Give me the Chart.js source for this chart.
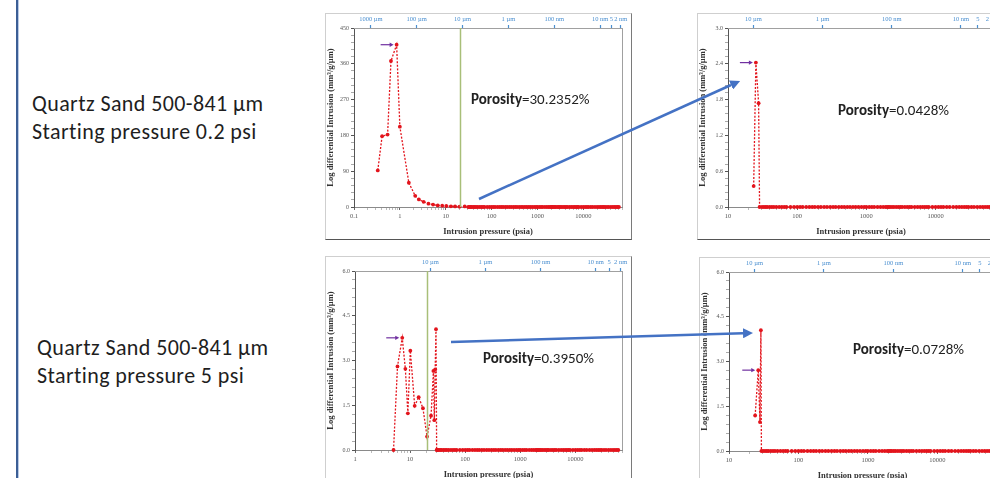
<!DOCTYPE html>
<html>
<head>
<meta charset="utf-8">
<script src="https://cdn.jsdelivr.net/npm/chart.js@4.4.1/dist/chart.umd.min.js"></script>
<style>
  body { margin: 0; width: 990px; height: 478px; overflow: hidden; background: #fff; position: relative;
         font-family: Carlito, Calibri, Lato, sans-serif; }
  .rule { position: absolute; left: 16px; top: 0; width: 2px; height: 478px; background: #3b5e95; border-right: 1px solid #b8cae6; }
  .box { position: absolute; width: 307px; height: 227px; box-sizing: border-box; background: #fff;
         border: 1px solid #cfcfcf; border-right-color: #7a7a7a; border-bottom-color: #555; }
  .box canvas { display: block; }
  .label { position: absolute; font-size: 22px; letter-spacing: 0.4px; line-height: 28px; color: #1e1e1e; white-space: nowrap; }
  .poro { position: absolute; font-size: 15px; line-height: 16px; color: #222; white-space: nowrap; }
  svg { position: absolute; left: 0; top: 0; }
</style>
</head>
<body>
<div class="rule"></div>

<div class="label" style="left:32px; top:90px">Quartz Sand 500-841 µm<br>Starting pressure 0.2 psi</div>
<div class="label" style="left:37px; top:334px">Quartz Sand 500-841 µm<br>Starting pressure 5 psi</div>

<div class="box" style="left:325px; top:13px"><canvas id="c1" width="305" height="225"></canvas></div>
<div class="box" style="left:697px; top:13px"><canvas id="c2" width="305" height="225"></canvas></div>
<div class="box" style="left:325px; top:256px"><canvas id="c3" width="305" height="225"></canvas></div>
<div class="box" style="left:699px; top:257px"><canvas id="c4" width="305" height="225"></canvas></div>

<div class="poro" style="left:471px; top:91px"><b>Porosity</b>=30.2352%</div>
<div class="poro" style="left:838px; top:102px"><b>Porosity</b>=0.0428%</div>
<div class="poro" style="left:483px; top:350px"><b>Porosity</b>=0.3950%</div>
<div class="poro" style="left:853px; top:341px"><b>Porosity</b>=0.0728%</div>

<svg width="990" height="478">
  <defs>
    <marker id="ah" markerWidth="4" markerHeight="4" refX="0" refY="2" orient="auto">
      <path d="M0,0 L4,2 L0,4 z" fill="#4472c4"></path>
    </marker>
  </defs>
  <line x1="479" y1="199" x2="731" y2="85" stroke="#4472c4" stroke-width="2.5" marker-end="url(#ah)"></line>
  <line x1="451" y1="342" x2="743" y2="333.3" stroke="#4472c4" stroke-width="2.5" marker-end="url(#ah)"></line>
</svg>

<script>
// pressure steps of the high-pressure run (psia), all read as zero intrusion
const highPressureSteps = [31, 33, 35, 37, 40, 43, 46, 50, 55, 60, 65, 70, 80, 90, 100, 110, 120, 135, 150, 165,
  180, 200, 220, 245, 270, 300, 330, 360, 400, 440, 480, 530, 580, 640, 700, 770, 850, 930, 1000, 1100,
  1200, 1300, 1450, 1600, 1750, 1900, 2000, 2100, 2200, 2350, 2500, 2700, 2900, 3100, 3300, 3600, 3900,
  4200, 4500, 5000, 5500, 6000, 6500, 7000, 7500, 8000, 9000, 10000, 11000, 12000, 13000, 14500, 16000,
  18000, 20000, 22000, 24000, 26000, 28000, 30000, 33000, 36000, 40000, 44000, 48000, 52000, 56000, 60000];

// sample 1: start 0.2 psi, raw sand
const s1Pressure = [0.33, 0.41, 0.54, 0.64, 0.85, 1.0, 1.57, 2.16, 2.6, 3.3, 4.2, 5.3, 6.7, 8.4, 10.3, 13, 16, 20, 26];
const s1Value    = [92, 178, 182, 367, 408, 202, 61, 28, 19, 13, 8.4, 6, 4, 3.4, 2.5, 1.7, 1.5, 0.8, 1.5];
// sample 1: second run
const s2Pressure = [23.5, 25.3, 27.7, 28.6];
const s2Value    = [0.35, 2.42, 1.74, 0];
// sample 2: start 5 psi, raw sand
const s3Pressure = [5.0, 5.9, 7.2, 8.2, 9.1, 10.1, 12.1, 14.3, 17.1, 20.3, 24, 26.5, 27.5, 28.5, 29.5, 30.3];
const s3Value    = [0, 2.8, 3.76, 2.72, 1.23, 3.33, 1.48, 1.77, 1.4, 0.45, 1.15, 2.65, 1.0, 2.7, 4.05, 0];
// sample 2: second run
const s4Pressure = [23.8, 26.4, 27.9, 28.8, 29.3];
const s4Value    = [1.19, 2.71, 0.97, 4.05, 0];

// axis ticks
const xTicks1 = [0.1, 1, 10, 100, 1000, 10000];
const xTicks2 = [10, 100, 1000, 10000];
const xTicks3 = [1, 10, 100, 1000, 10000];
const yTicks1 = [0, 90, 180, 270, 360, 450];
const yTicks2 = [0, 0.6, 1.2, 1.8, 2.4, 3.0];
const yTicks3 = [0, 1.5, 3.0, 4.5, 6.0];
// pore diameter axis: label and the pressure it sits at
const poreLabels    = ['1000 µm', '100 µm', '10 µm', '1 µm', '100 nm', '10 nm', '5', '2 nm'];
const porePressures = [0.233, 2.33, 23.3, 233, 2330, 23300, 41000, 66000];
const cutoffPressure = 20;

const RED = '#e3141c';
const SERIF = '"Liberation Serif", "Times New Roman", serif';

const decor = {
  id: 'decor',
  afterDatasetsDraw(chart, args, opts) {
    const { ctx, chartArea: a } = chart;
    const x = chart.scales.x;
    ctx.save();
    // plot frame (top / right)
    ctx.strokeStyle = '#a0a0a0';
    ctx.lineWidth = 1;
    ctx.beginPath();
    ctx.moveTo(a.left, a.top + 0.5); ctx.lineTo(a.right + 0.5, a.top + 0.5); ctx.lineTo(a.right + 0.5, a.bottom);
    ctx.stroke();
    if (opts.cutoff) {
      const px = Math.round(x.getPixelForValue(opts.cutoff)) + 0.5;
      ctx.strokeStyle = '#a8bf78';
      ctx.lineWidth = 1.5;
      ctx.beginPath(); ctx.moveTo(px, a.top); ctx.lineTo(px, a.bottom); ctx.stroke();
    }
    if (opts.peak != null) {
      const pt = chart.getDatasetMeta(0).data[opts.peak];
      const x1 = pt.x - 3, x0 = x1 - 13, y0 = pt.y;
      ctx.strokeStyle = '#7030a0'; ctx.fillStyle = '#7030a0'; ctx.lineWidth = 1.2;
      ctx.beginPath(); ctx.moveTo(x0, y0); ctx.lineTo(x1 - 3, y0); ctx.stroke();
      ctx.beginPath(); ctx.moveTo(x1, y0); ctx.lineTo(x1 - 4, y0 - 2.2); ctx.lineTo(x1 - 4, y0 + 2.2); ctx.closePath(); ctx.fill();
    }
    ctx.restore();
  }
};

function withMinors(majors, min, max) {
  const out = [];
  for (let i = 0; i < majors.length; i++) {
    for (let k = 1; k < 10; k++) {
      const v = majors[i] * k;
      if (v >= min && v <= max) out.push({ value: v });
    }
  }
  return out;
}

function fmtPressure(v) {
  return v < 1 ? String(v) : String(Math.round(v));
}

function buildChart(id, o) {
  const points = o.p.map((p, i) => ({ x: p, y: o.v[i] }));
  const yMinor = [];
  for (let i = 0; i < o.yTicks.length - 1; i++) {
    const step = (o.yTicks[i + 1] - o.yTicks[i]) / 5;
    for (let k = 0; k < 5; k++) yMinor.push({ value: o.yTicks[i] + step * k });
  }
  yMinor.push({ value: o.yTicks[o.yTicks.length - 1] });
  const isMajorY = v => o.yTicks.some(t => Math.abs(t - v) < 1e-6);
  const isMajorX = v => o.xTicks.some(t => Math.abs(t - v) / t < 1e-6);
  const pores = porePressures.slice(o.poreFrom).filter(p => p >= o.xMin && p <= o.xMax);

  new Chart(document.getElementById(id), {
    type: 'line',
    data: {
      datasets: [{
        data: points,
        borderColor: RED,
        backgroundColor: RED,
        borderWidth: 1.3,
        borderDash: [2, 1.6],
        pointRadius: 1.9,
        pointBorderWidth: 0,
        tension: 0,
        clip: false
      }]
    },
    options: {
      responsive: false,
      animation: false,
      events: [],
      layout: { padding: { right: 9 } },
      plugins: {
        legend: { display: false },
        tooltip: { enabled: false },
        decor: { cutoff: o.cutoff, peak: o.peak }
      },
      scales: {
        x: {
          type: 'logarithmic',
          min: o.xMin, max: o.xMax,
          afterFit: s => { s.height = 32; },
          afterBuildTicks: s => { s.ticks = withMinors(o.xTicks, o.xMin, o.xMax); },
          ticks: {
            autoSkip: false, maxRotation: 0, padding: 2,
            color: '#555', font: { family: SERIF, size: 6.5 },
            callback: v => isMajorX(v) ? fmtPressure(v) : ''
          },
          grid: {
            drawOnChartArea: false, tickLength: 3,
            tickColor: c => (c.tick && isMajorX(c.tick.value)) ? '#666' : '#bbb'
          },
          border: { color: '#8a8a8a' },
          title: {
            display: true, text: 'Intrusion pressure (psia)', color: '#333',
            font: { family: SERIF, size: 8.5, weight: 'bold' },
            padding: { top: 0, bottom: 2 }
          }
        },
        x2: {
          type: 'logarithmic',
          position: 'top',
          min: o.xMin, max: o.xMax,
          afterFit: s => { s.height = 14; },
          afterBuildTicks: s => { s.ticks = pores.map(p => ({ value: p })); },
          ticks: {
            autoSkip: false, maxRotation: 0, padding: 2,
            color: '#4a8fd0', font: { family: SERIF, size: 6.5 },
            callback: v => {
              const i = porePressures.findIndex(p => Math.abs(p - v) / p < 1e-6);
              return i >= 0 ? poreLabels[i] : '';
            }
          },
          grid: { drawOnChartArea: false, tickLength: 3, tickColor: '#4a8fd0', tickWidth: 1.2 },
          border: { color: '#9aa6b2' }
        },
        y: {
          min: o.yTicks[0], max: o.yTicks[o.yTicks.length - 1],
          afterFit: s => { s.width = o.yWidth; },
          afterBuildTicks: s => { s.ticks = yMinor.slice(); },
          ticks: {
            autoSkip: false, padding: 2,
            color: '#555', font: { family: SERIF, size: 6 },
            callback: v => isMajorY(v) ? v.toFixed(o.yDec) : ''
          },
          grid: {
            drawOnChartArea: false, tickLength: 3,
            tickColor: c => (c.tick && isMajorY(c.tick.value)) ? '#555' : '#aaa'
          },
          border: { color: '#555' },
          title: {
            display: true, text: 'Log differential Intrusion (mm³/g/µm)', color: '#333',
            font: { family: SERIF, size: 8.5, weight: 'bold' },
            padding: { top: 0, bottom: 0 }
          }
        }
      }
    },
    plugins: [decor]
  });
}

const xMax = 70000;

buildChart('c1', {
  p: s1Pressure.concat(highPressureSteps), v: s1Value.concat(highPressureSteps.map(() => 0)),
  xMin: 0.1, xMax: xMax, xTicks: xTicks1, yTicks: yTicks1, yDec: 0, yWidth: 28,
  poreFrom: 0, cutoff: cutoffPressure, peak: 4
});
buildChart('c2', {
  p: s2Pressure.concat(highPressureSteps), v: s2Value.concat(highPressureSteps.map(() => 0)),
  xMin: 10, xMax: xMax, xTicks: xTicks2, yTicks: yTicks2, yDec: 1, yWidth: 30,
  poreFrom: 2, cutoff: null, peak: 1
});
buildChart('c3', {
  p: s3Pressure.concat(highPressureSteps), v: s3Value.concat(highPressureSteps.map(() => 0)),
  xMin: 1, xMax: xMax, xTicks: xTicks3, yTicks: yTicks3, yDec: 1, yWidth: 29,
  poreFrom: 2, cutoff: cutoffPressure, peak: 2
});
buildChart('c4', {
  p: s4Pressure.concat(highPressureSteps), v: s4Value.concat(highPressureSteps.map(() => 0)),
  xMin: 10, xMax: xMax, xTicks: xTicks2, yTicks: yTicks3, yDec: 1, yWidth: 29,
  poreFrom: 2, cutoff: null, peak: 1
});
</script>
</body>
</html>
